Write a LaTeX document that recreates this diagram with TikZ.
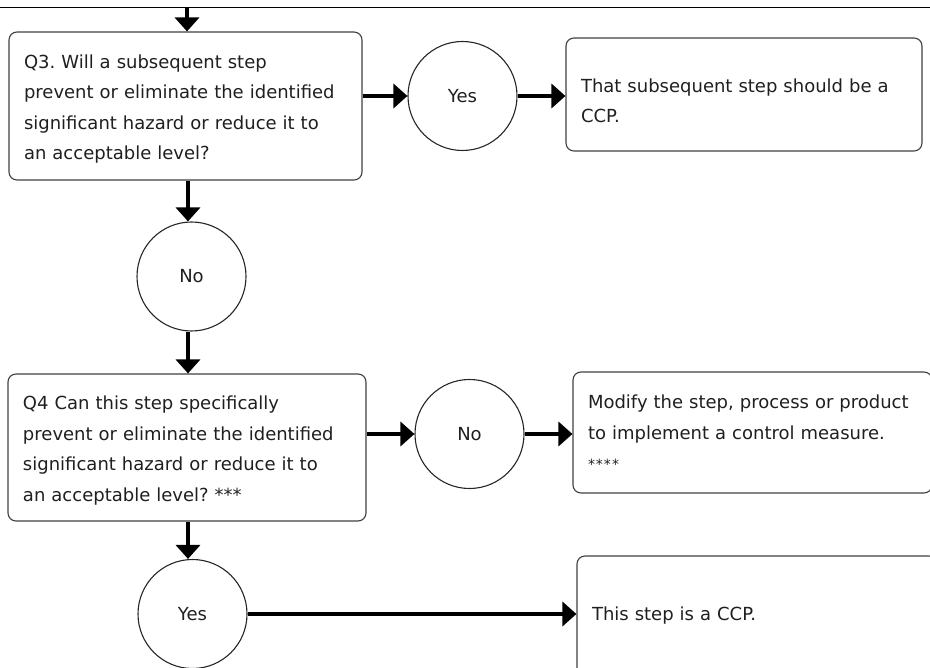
\documentclass[tikz,border=0pt]{standalone}
\usepackage{fontspec}
\setmainfont{DejaVu Sans}
\usetikzlibrary{arrows.meta,calc}
\begin{document}
\frenchspacing
\begin{tikzpicture}[x=1pt,y=-1pt,
  txt/.style={font=\fontsize{18}{30.5}\selectfont\frenchspacing, text=black!88},
  box/.style={txt, draw=black!75, line width=1.1pt, rounded corners=8pt, align=left, inner xsep=15pt, inner ysep=0pt, anchor=center},
  ans/.style={txt, draw=black!85, line width=1.1pt, circle, minimum size=109pt, inner sep=0pt},
  arr/.style={line width=4pt, -{Triangle[width=24pt,length=14pt]}}]
\useasboundingbox (0,0) rectangle (930,668);
\clip (0,0) rectangle (930,668);
% top rule
\coordinate (rl) at (0,8);
\coordinate (rr) at (930,8);
\draw[line width=1pt] (rl) -- (rr);
\coordinate (top) at (187,8);
\coordinate (vx) at (188,0);
% nodes
\node[box, text width=323pt, minimum height=148pt] (q3) at (185.5,106)
  {\rule{0pt}{20pt}Q3. Will a subsequent step\\prevent or eliminate the identified\\significant hazard or reduce it to\\an acceptable level?};
\node[ans] (yes1) at (462.5,96) {Yes};
\node[box, text width=326pt, minimum height=113pt] (b1) at (744,94.5)
  {\rule{0pt}{26pt}That subsequent step should be a\\CCP.};
\node[ans] (no1) at (191.5,276.5) {No};
\node[box, text width=328pt, minimum height=147pt] (q4) at (187,447.5)
  {\rule{0pt}{20pt}Q4 Can this step specifically\\prevent or eliminate the identified\\significant hazard or reduce it to\\an acceptable level? ***};
\node[ans] (no2) at (469.5,434) {No};
\node[box, text width=329pt, minimum height=121pt] (b2) at (752.5,432.5)
  {Modify the step, process or product\\to implement a control measure.\\{\fontsize{14}{30.5}\selectfont *\kern1pt*\kern1pt*\kern1pt*}};
\node[ans] (yes2) at (192.5,614) {Yes};
\node[box, text width=330pt, minimum height=120pt] (b3) at (757,616)
  {This step is a CCP.};
% connectors
\draw[arr] (top) -- (top |- q3.north);
\draw[arr] (q3.east |- yes1) -- (yes1.west);
\draw[arr] (yes1.east) -- (yes1 -| b1.west);
\draw[arr] (q3.south -| vx) -- (no1.north -| vx);
\draw[arr] (no1.south -| vx) -- (q4.north -| vx);
\draw[arr] (q4.east |- no2) -- (no2.west);
\draw[arr] (no2.east) -- (no2 -| b2.west);
\draw[arr] (q4.south -| vx) -- (yes2.north -| vx);
\draw[arr] (yes2.east) -- (yes2 -| b3.west);
\end{tikzpicture}
\end{document}
